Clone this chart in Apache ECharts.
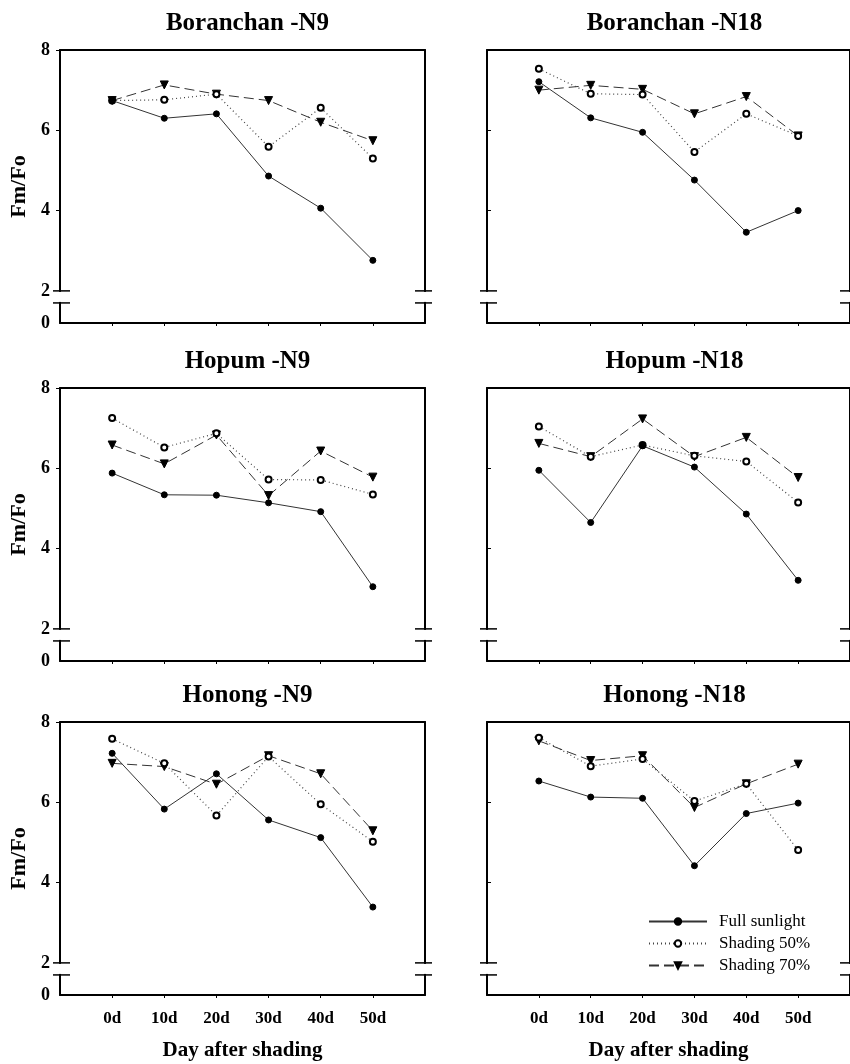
<!DOCTYPE html>
<html>
<head>
<meta charset="utf-8">
<script src="https://cdn.jsdelivr.net/npm/echarts@6/dist/echarts.min.js"></script>
<style>
  html, body { margin: 0; padding: 0; background: #fff; }
  #chart { width: 850px; height: 1064px; }
</style>
</head>
<body>
<div id="chart"></div>
<script>
// days after shading
const days = [0, 10, 20, 30, 40, 50];
const dayLabels = ['0d', '10d', '20d', '30d', '40d', '50d'];
const yTicks = [2, 4, 6, 8];
const seriesNames = ['Full sunlight', 'Shading 50%', 'Shading 70%'];
const panelTitles = ['Boranchan -N9', 'Boranchan -N18', 'Hopum -N9', 'Hopum -N18', 'Honong -N9', 'Honong -N18'];

// Fm/Fo values
const borN9Full = [6.74, 6.30, 6.41, 4.86, 4.06, 2.76];
const borN9S50 = [6.74, 6.76, 6.90, 5.59, 6.56, 5.30];
const borN9S70 = [6.74, 7.13, 6.90, 6.74, 6.20, 5.74];
const borN18Full = [7.21, 6.31, 5.95, 4.76, 3.46, 4.00];
const borN18S50 = [7.53, 6.91, 6.89, 5.46, 6.41, 5.86];
const borN18S70 = [7.00, 7.12, 7.02, 6.41, 6.84, 5.86];
const hopN9Full = [5.88, 5.34, 5.33, 5.14, 4.92, 3.05];
const hopN9S50 = [7.25, 6.52, 6.87, 5.72, 5.71, 5.35];
const hopN9S70 = [6.58, 6.11, 6.83, 5.32, 6.43, 5.78];
const hopN18Full = [5.95, 4.65, 6.56, 6.03, 4.86, 3.21];
const hopN18S50 = [7.04, 6.29, 6.58, 6.31, 6.17, 5.15];
const hopN18S70 = [6.62, 6.29, 7.23, 6.29, 6.77, 5.77];
const honN9Full = [7.22, 5.83, 6.71, 5.56, 5.12, 3.39];
const honN9S50 = [7.58, 6.97, 5.67, 7.14, 5.95, 5.02];
const honN9S70 = [6.97, 6.89, 6.45, 7.16, 6.71, 5.29];
const honN18Full = [6.53, 6.13, 6.10, 4.42, 5.72, 5.98];
const honN18S50 = [7.61, 6.90, 7.08, 6.03, 6.46, 4.81];
const honN18S70 = [7.53, 7.04, 7.16, 5.87, 6.46, 6.95];

const panelData = [
    [borN9Full, borN9S50, borN9S70],
    [borN18Full, borN18S50, borN18S70],
    [hopN9Full, hopN9S50, hopN9S70],
    [hopN18Full, hopN18S50, hopN18S70],
    [honN9Full, honN9S50, honN9S70],
    [honN18Full, honN18S50, honN18S70]
];

const FONT = '"Liberation Serif", "Times New Roman", serif';
const INK = '#000';
const colLeft = [60, 487];
const rowTop = [50, 388, 722];
const plotW = 365;
const plotH = 273;
const Y_MIN = 1.2; // bottom of broken axis, shown as 0
const BREAK_LOW = 1.7;

const chart = echarts.init(document.getElementById('chart'));

const grids = [], xAxes = [], yAxes = [], series = [], titles = [];
const lineStyles = [
    { type: 'solid', width: 1, color: '#333' },
    { type: [1, 3], width: 1.2, color: '#444' },
    { type: [10, 5], width: 1, color: '#333' }
];
const symbols = ['circle', 'emptyCircle', 'triangle'];
const symbolSizes = [6, 6, 8];

for (let p = 0; p < 6; p++) {
    const row = Math.floor(p / 2), col = p % 2;
    const isBottom = row === 2;
    grids.push({ left: colLeft[col], top: rowTop[row], width: plotW, height: plotH });
    titles.push({
        text: panelTitles[p],
        left: colLeft[col] + plotW / 2,
        top: rowTop[row] - 44,
        textAlign: 'center',
        textStyle: { fontFamily: FONT, fontWeight: 'bold', fontSize: 25, color: INK }
    });
    // bottom x axis
    xAxes.push({
        gridIndex: p, type: 'value', position: 'bottom',
        min: -10, max: 60, interval: 10,
        name: isBottom ? 'Day after shading' : '',
        nameLocation: 'middle', nameGap: 45,
        nameTextStyle: { fontFamily: FONT, fontWeight: 'bold', fontSize: 21, color: INK },
        axisLine: { show: true, onZero: false, lineStyle: { color: INK, width: 2 } },
        axisTick: { show: true, inside: false, length: 3, customValues: days, lineStyle: { color: INK, width: 1 } },
        axisLabel: {
            show: isBottom, customValues: days, margin: 15,
            formatter: v => dayLabels[days.indexOf(v)] || '',
            fontFamily: FONT, fontWeight: 'bold', fontSize: 17, color: INK
        },
        splitLine: { show: false }
    });
    // top border axis
    xAxes.push({
        gridIndex: p, type: 'value', position: 'top', min: -10, max: 60,
        axisLine: { show: true, onZero: false, lineStyle: { color: INK, width: 2 } },
        axisTick: { show: false }, axisLabel: { show: false }, splitLine: { show: false }
    });
    yAxes.push({
        gridIndex: p, type: 'value', position: 'left',
        min: Y_MIN, max: 8,
        name: col === 0 ? 'Fm/Fo' : '',
        nameLocation: 'middle', nameGap: 30,
        nameTextStyle: { fontFamily: FONT, fontWeight: 'bold', fontSize: 22, color: INK },
        axisLine: { show: true, onZero: false, lineStyle: { color: INK, width: 2 } },
        axisTick: { show: true, inside: col === 1, length: 4, customValues: [4, 6, 8], lineStyle: { color: INK, width: 1 } },
        axisLabel: {
            show: col === 0, customValues: [Y_MIN].concat(yTicks), margin: 10,
            formatter: v => (v < 2 ? '0' : String(v)),
            fontFamily: FONT, fontWeight: 'bold', fontSize: 18, color: INK
        },
        splitLine: { show: false }
    });
    yAxes.push({
        gridIndex: p, type: 'value', position: 'right', min: Y_MIN, max: 8,
        axisLine: { show: true, onZero: false, lineStyle: { color: INK, width: 2 } },
        axisTick: { show: false }, axisLabel: { show: false }, splitLine: { show: false }
    });
    for (let s = 0; s < 3; s++) {
        series.push({
            name: seriesNames[s],
            type: 'line',
            xAxisIndex: 2 * p, yAxisIndex: 2 * p,
            data: days.map((d, i) => [d, panelData[p][s][i]]),
            symbol: symbols[s],
            symbolSize: symbolSizes[s],
            symbolRotate: s === 2 ? 180 : 0,
            lineStyle: lineStyles[s],
            itemStyle: { color: INK, borderColor: INK, borderWidth: 1 },
            emphasis: { disabled: true },
            animation: false,
            z: 3 - s
        });
    }
}

chart.setOption({
    animation: false,
    title: titles,
    grid: grids,
    xAxis: xAxes,
    yAxis: yAxes,
    series: series,
    legend: {
        data: seriesNames,
        orient: 'vertical',
        left: 643, top: 908,
        itemWidth: 58, itemHeight: 8, itemGap: 5,
        textStyle: { fontFamily: FONT, fontSize: 17, color: INK, padding: [0, 0, 0, 7] }
    }
});

// axis break marks (2 // 0) on both sides of each panel
const graphics = [];
for (let p = 0; p < 6; p++) {
    const a = chart.convertToPixel({ xAxisIndex: 2 * p, yAxisIndex: 2 * p }, [-10, 2]);
    const b = chart.convertToPixel({ xAxisIndex: 2 * p, yAxisIndex: 2 * p }, [60, BREAK_LOW]);
    const xl = a[0], xr = b[0], y1 = a[1], y2 = b[1];
    [[xl, -7, 10], [xr, -10, 7]].forEach(([x, d1, d2]) => {
        graphics.push({ type: 'rect', z: 100, shape: { x: x - 3, y: y1 + 1, width: 6, height: y2 - y1 - 2 }, style: { fill: '#fff' } });
        graphics.push({ type: 'line', z: 101, shape: { x1: x + d1, y1: y1, x2: x + d2, y2: y1 }, style: { stroke: INK, lineWidth: 1.5 } });
        graphics.push({ type: 'line', z: 101, shape: { x1: x + d1, y1: y2, x2: x + d2, y2: y2 }, style: { stroke: INK, lineWidth: 1.5 } });
    });
}
chart.setOption({ graphic: graphics });
</script>
</body>
</html>
